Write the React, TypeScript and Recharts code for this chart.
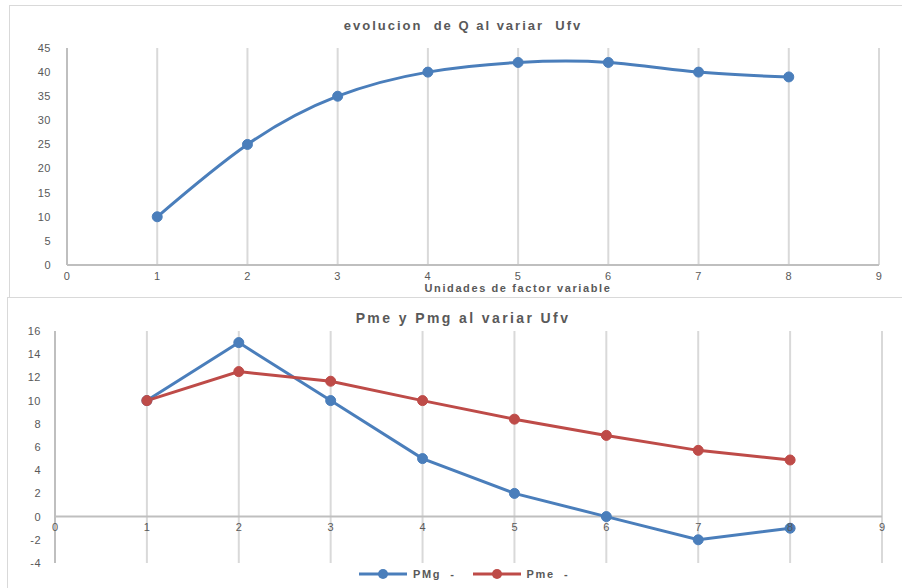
import React from 'react';
import { LineChart, Line, XAxis, YAxis, CartesianGrid, ReferenceLine } from 'recharts';

// units of variable factor
const units = [1, 2, 3, 4, 5, 6, 7, 8];
// total product Q
const qValues = [10, 25, 35, 40, 42, 42, 40, 39];
// marginal and average product
const pmgValues = [10, 15, 10, 5, 2, 0, -2, -1];
const pmeValues = [10, 12.5, 11.67, 10, 8.4, 7, 5.71, 4.88];

const xTicks = [0, 1, 2, 3, 4, 5, 6, 7, 8, 9];
const qTicks = [0, 5, 10, 15, 20, 25, 30, 35, 40, 45];
const pTicks = [-4, -2, 0, 2, 4, 6, 8, 10, 12, 14, 16];

const topTitle = 'evolucion  de Q al variar  Ufv';
const bottomTitle = 'Pme y Pmg al variar Ufv';
const xLabel = 'Unidades  de factor variable';
const pmgName = 'PMg  -';
const pmeName = 'Pme  -';

const BLUE = '#4A7EBB';
const RED = '#BE4B48';
const TEXT = '#595959';
const AXIS = '#BFBFBF';
const GRID = '#D9D9D9';
const FONT = '"Liberation Sans", Arial, sans-serif';

const qData = units.map((u, i) => ({ x: u, q: qValues[i] }));
const pData = units.map((u, i) => ({ x: u, pmg: pmgValues[i], pme: pmeValues[i] }));

const tickStyle = { fontSize: 11, fill: TEXT, fontFamily: FONT, letterSpacing: 0.5 };

// x ticks of the lower chart sit on the zero line, not at the bottom of the plot
const ZeroTick = (props: any) => {
  const { x, y, payload } = props;
  return (
    <text x={x} y={y - 40} textAnchor="middle" dominantBaseline="hanging" fontSize={11} fill={TEXT} fontFamily={FONT}>
      {payload.value}
    </text>
  );
};

const titleStyle: React.CSSProperties = {
  position: 'absolute',
  left: 0,
  width: 926,
  textAlign: 'center',
  fontFamily: FONT,
  fontWeight: 'bold',
  fontSize: 13,
  letterSpacing: 2,
  color: TEXT,
  whiteSpace: 'pre',
};

const LegendItem = ({ color, label }: { color: string; label: string }) => (
  <div style={{ display: 'flex', alignItems: 'center', marginRight: 16 }}>
    <svg width={50} height={12}>
      <line x1={1} y1={6} x2={49} y2={6} stroke={color} strokeWidth={3} />
      <circle cx={25} cy={6} r={5} fill={color} />
    </svg>
    <span style={{ marginLeft: 5, fontWeight: 'bold', fontSize: 11, letterSpacing: 1.6, color: TEXT, whiteSpace: 'pre' }}>
      {label}
    </span>
  </div>
);

const App: React.FC = () => {
  return (
    <div style={{ position: 'absolute', left: 0, top: 0, width: 902, height: 588, overflow: 'hidden', background: '#fff', fontFamily: FONT }}>
      {/* top chart */}
      <div style={{ position: 'absolute', left: 9, top: 5, width: 900, height: 291, border: `1px solid ${GRID}` }}>
        <LineChart width={890} height={291} data={qData} margin={{ top: 42, right: 21, left: 0, bottom: 0 }}>
          <CartesianGrid horizontal={false} stroke={GRID} strokeWidth={2} />
          <XAxis
            dataKey="x"
            type="number"
            domain={[0, 9]}
            ticks={xTicks}
            height={32}
            tickLine={false}
            tickSize={0}
            tickMargin={7}
            axisLine={{ stroke: AXIS, strokeWidth: 2 }}
            tick={tickStyle}
            label={{
              value: xLabel,
              position: 'insideBottom',
              offset: 5,
              dx: 45,
              style: { fontSize: 11, fontWeight: 'bold', fill: TEXT, fontFamily: FONT, letterSpacing: 1.6, whiteSpace: 'pre' },
            }}
          />
          <YAxis
            type="number"
            domain={[0, 45]}
            ticks={qTicks}
            width={57}
            tickLine={false}
            tickSize={0}
            tickMargin={16}
            axisLine={{ stroke: AXIS, strokeWidth: 2 }}
            tick={tickStyle}
          />
          <Line
            type="natural"
            dataKey="q"
            stroke={BLUE}
            strokeWidth={3}
            dot={{ r: 5, fill: BLUE, stroke: BLUE, strokeWidth: 1 }}
            isAnimationActive={false}
          />
        </LineChart>
        <div style={{ ...titleStyle, left: -10, top: 12 }}>{topTitle}</div>
      </div>

      {/* bottom chart */}
      <div style={{ position: 'absolute', left: 7, top: 297, width: 900, height: 300, border: `1px solid ${GRID}` }}>
        <LineChart width={893} height={290} data={pData} margin={{ top: 33, right: 19, left: 0, bottom: 24 }}>
          <CartesianGrid horizontal={false} stroke={GRID} strokeWidth={2} />
          <XAxis
            dataKey="x"
            type="number"
            domain={[0, 9]}
            ticks={xTicks}
            height={1}
            tickLine={false}
            tickSize={0}
            tickMargin={0}
            axisLine={false}
            tick={ZeroTick}
          />
          <YAxis
            type="number"
            domain={[-4, 16]}
            ticks={pTicks}
            width={47}
            tickLine={false}
            tickSize={0}
            tickMargin={14}
            axisLine={{ stroke: AXIS, strokeWidth: 2 }}
            tick={tickStyle}
          />
          <ReferenceLine y={0} stroke={AXIS} strokeWidth={2} />
          <Line
            type="linear"
            dataKey="pmg"
            name={pmgName}
            stroke={BLUE}
            strokeWidth={3}
            dot={{ r: 5, fill: BLUE, stroke: BLUE, strokeWidth: 1 }}
            isAnimationActive={false}
          />
          <Line
            type="linear"
            dataKey="pme"
            name={pmeName}
            stroke={RED}
            strokeWidth={3}
            dot={{ r: 5, fill: RED, stroke: RED, strokeWidth: 1 }}
            isAnimationActive={false}
          />
        </LineChart>
        <div style={{ ...titleStyle, left: -8, top: 12, fontSize: 14, letterSpacing: 2.4 }}>{bottomTitle}</div>
        <div style={{ position: 'absolute', left: 350, top: 270, display: 'flex' }}>
          <LegendItem color={BLUE} label={pmgName} />
          <LegendItem color={RED} label={pmeName} />
        </div>
      </div>
    </div>
  );
};

export default App;
